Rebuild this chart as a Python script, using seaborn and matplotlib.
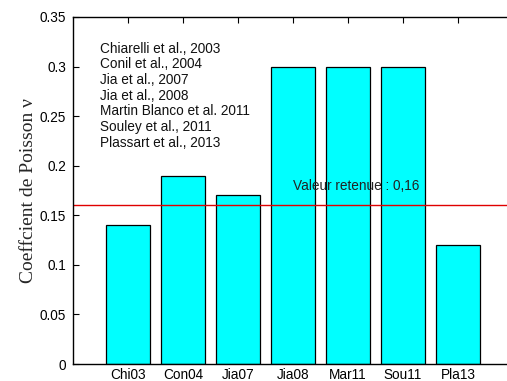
#!/usr/bin/env python3
import pandas as pd
import numpy as np
import matplotlib
matplotlib.use("Agg")
import matplotlib.pyplot as plt
import seaborn as sns

# data
studies = ["Chi03", "Con04", "Jia07", "Jia08", "Mar11", "Sou11", "Pla13"]
poisson = [0.14, 0.19, 0.17, 0.30, 0.30, 0.30, 0.12]
refs = ["Chiarelli et al., 2003", "Conil et al., 2004", "Jia et al., 2007",
        "Jia et al., 2008", "Martin Blanco et al. 2011", "Souley et al., 2011",
        "Plassart et al., 2013"]
retained = 0.16
yticks = [0, 0.05, 0.1, 0.15, 0.2, 0.25, 0.3, 0.35]
ytick_labels = ["0", "0.05", "0.1", "0.15", "0.2", "0.25", "0.3", "0.35"]


def main():
    sns.set_style("ticks")
    plt.rcParams["font.family"] = ["Liberation Sans", "DejaVu Sans"]

    df = pd.DataFrame({"study": studies, "nu": poisson})

    fig = plt.figure(figsize=(5.07, 3.81), dpi=100)
    ax = fig.add_axes([73 / 507, 17 / 381, 440 / 507, 347 / 381])

    sns.barplot(data=df, x="study", y="nu", color="#00ffff", saturation=1,
                width=0.8, edgecolor="black", linewidth=0.9, ax=ax)

    ax.set_xlim(-1, 7)
    ax.set_ylim(0, 0.35)
    ax.set_yticks(yticks)
    ax.set_yticklabels(ytick_labels)
    ax.tick_params(direction="in", length=4, width=0.8, labelsize=9.8,
                   top=True, right=True, pad=5, colors="black")
    # matlab-style: ticks on top only, bottom ones hidden behind bars
    ax.tick_params(axis="x", bottom=False, top=True, length=4, pad=3)
    for s in ax.spines.values():
        s.set_linewidth(1.0)
        s.set_color("black")

    # retained value
    ax.axhline(retained, color="#e00000", lw=1.0)
    ax.text(3.0, 0.18, "Valeur retenue : 0,16", fontsize=9.8, va="center",
            ha="left", color="#222222")

    # reference list
    ax.text(-0.5, 0.325, "\n".join(refs), fontsize=9.8, va="top", ha="left",
            linespacing=1.15, color="#111111")

    ax.set_xlabel("")
    ax.set_ylabel("Coeffcient de Poisson ν", family=["Liberation Serif", "DejaVu Serif"],
                  fontsize=14, labelpad=2)

    fig.savefig("out.png", dpi=100)


if __name__ == "__main__":
    main()
